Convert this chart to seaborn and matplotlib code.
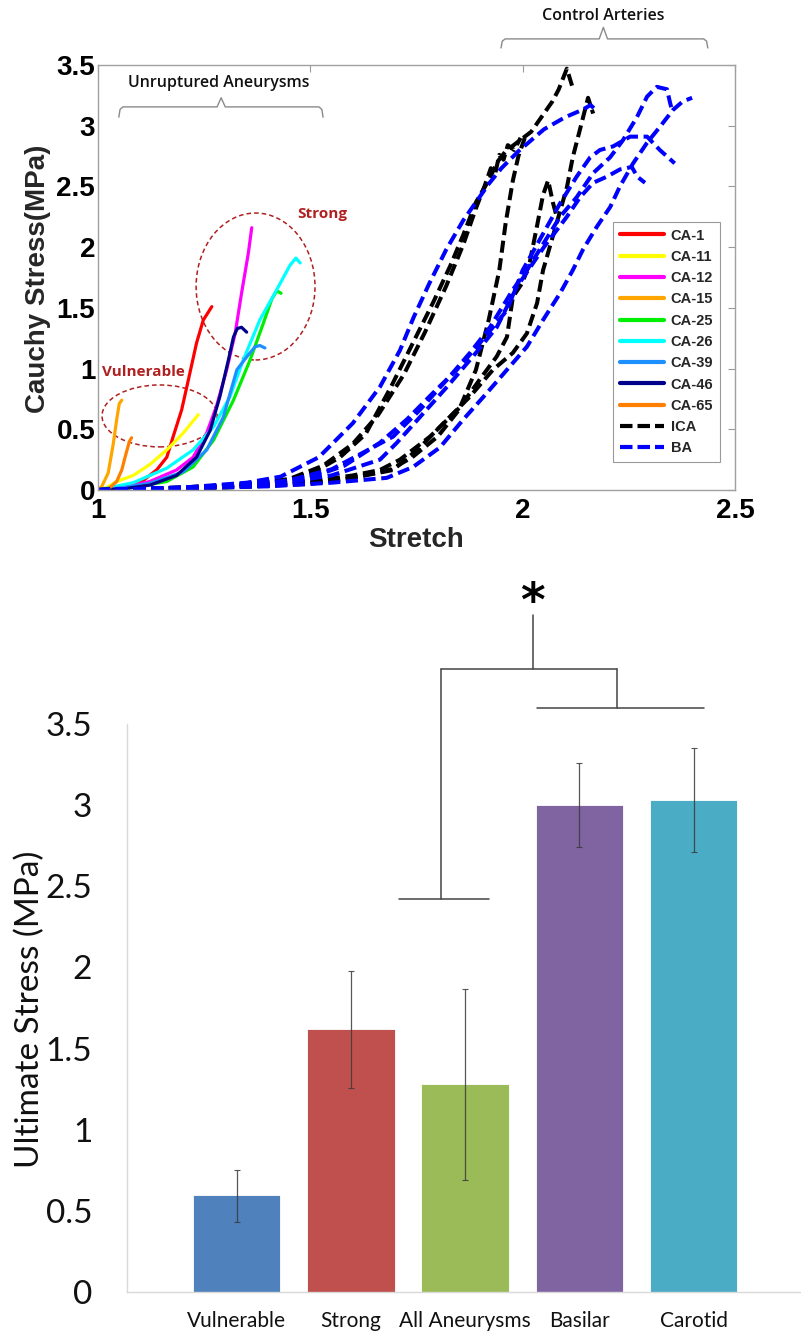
import numpy as np
import matplotlib
matplotlib.use("Agg")
import matplotlib.pyplot as plt
from matplotlib.lines import Line2D
from matplotlib.patches import Ellipse
import seaborn as sns

# ---------------- top panel data (stretch, Cauchy stress MPa) ----------------
ca1_stretch = [1.0, 1.03, 1.068, 1.107, 1.138, 1.162, 1.177, 1.197, 1.213, 1.232, 1.248, 1.268]
ca1_stress = [0.0, 0.01, 0.03, 0.08, 0.165, 0.27, 0.44, 0.66, 0.91, 1.21, 1.40, 1.51]
ca11_stretch = [1.0, 1.02, 1.044, 1.083, 1.122, 1.162, 1.201, 1.236]
ca11_stress = [0.0, 0.02, 0.07, 0.12, 0.21, 0.33, 0.47, 0.62]
ca12_stretch = [1.0, 1.06, 1.122, 1.185, 1.224, 1.256, 1.279, 1.303, 1.323, 1.338, 1.354, 1.362]
ca12_stress = [0.0, 0.02, 0.07, 0.165, 0.27, 0.47, 0.69, 0.99, 1.29, 1.62, 1.95, 2.16]
ca15_stretch = [1.0, 1.009, 1.024, 1.036, 1.044, 1.050, 1.056]
ca15_stress = [0.0, 0.03, 0.14, 0.38, 0.58, 0.71, 0.74]
ca25_stretch = [1.0, 1.08, 1.162, 1.224, 1.272, 1.319, 1.358, 1.389, 1.409, 1.421, 1.431]
ca25_stress = [0.0, 0.02, 0.07, 0.19, 0.41, 0.74, 1.07, 1.37, 1.57, 1.64, 1.62]
ca26_stretch = [1.0, 1.083, 1.162, 1.224, 1.272, 1.311, 1.342, 1.381, 1.421, 1.452, 1.466, 1.476]
ca26_stress = [0.0, 0.06, 0.18, 0.33, 0.52, 0.77, 1.07, 1.40, 1.65, 1.85, 1.91, 1.87]
ca39_stretch = [1.0, 1.06, 1.122, 1.201, 1.256, 1.295, 1.327, 1.351, 1.37, 1.381, 1.393]
ca39_stress = [0.0, 0.02, 0.055, 0.15, 0.33, 0.60, 0.99, 1.10, 1.18, 1.19, 1.17]
ca46_stretch = [1.0, 1.06, 1.122, 1.185, 1.232, 1.264, 1.287, 1.307, 1.319, 1.328, 1.338, 1.35]
ca46_stress = [0.0, 0.01, 0.04, 0.12, 0.27, 0.49, 0.77, 1.07, 1.26, 1.33, 1.34, 1.30]
ca65_stretch = [1.0, 1.02, 1.028, 1.044, 1.056, 1.066, 1.074, 1.079]
ca65_stress = [0.0, 0.005, 0.02, 0.07, 0.165, 0.30, 0.40, 0.43]

ica1_stretch = [1.0, 1.19, 1.31, 1.43, 1.51, 1.57, 1.63, 1.69, 1.74, 1.79, 1.83, 1.86, 1.89, 1.92,
                1.94, 1.96, 1.99, 2.02, 2.05, 2.07, 2.085, 2.104, 2.118]
ica1_stress = [0.0, 0.02, 0.04, 0.07, 0.15, 0.27, 0.46, 0.85, 1.2, 1.55, 1.85, 2.10, 2.37, 2.55,
               2.70, 2.79, 2.87, 2.95, 3.10, 3.20, 3.30, 3.47, 3.31]
ica2_stretch = [1.0, 1.2, 1.35, 1.45, 1.53, 1.6, 1.66, 1.72, 1.77, 1.82, 1.86, 1.89, 1.91, 1.925,
                1.935, 1.945, 1.955, 1.965, 1.98, 1.995]
ica2_stress = [0.0, 0.02, 0.05, 0.09, 0.2, 0.38, 0.62, 0.95, 1.3, 1.68, 2.02, 2.32, 2.5, 2.65,
               2.6, 2.76, 2.72, 2.84, 2.8, 2.9]
ica3_stretch = [1.0, 1.3, 1.5, 1.6, 1.69, 1.74, 1.8, 1.85, 1.89, 1.92, 1.945, 1.96, 1.977, 1.99, 2.005]
ica3_stress = [0.0, 0.02, 0.05, 0.1, 0.17, 0.27, 0.44, 0.66, 0.99, 1.40, 1.81, 2.2, 2.55, 2.75, 2.9]
ica4_stretch = [1.0, 1.25, 1.4, 1.5, 1.6, 1.664, 1.711, 1.782, 1.852, 1.899, 1.939, 1.963, 1.977,
                2.0, 2.017, 2.033, 2.048, 2.06, 2.071, 2.081]
ica4_stress = [0.0, 0.02, 0.04, 0.07, 0.12, 0.165, 0.25, 0.44, 0.68, 0.91, 1.10, 1.26, 1.59,
               1.71, 1.88, 2.16, 2.43, 2.55, 2.37, 2.24]
ica5_stretch = [1.0, 1.25, 1.4, 1.5, 1.6, 1.695, 1.758, 1.822, 1.876, 1.93, 1.977, 2.01, 2.034,
                2.048, 2.081, 2.104, 2.118, 2.135, 2.154, 2.166]
ica5_stress = [0.0, 0.02, 0.035, 0.06, 0.1, 0.165, 0.35, 0.58, 0.77, 0.99, 1.13, 1.29, 1.54,
               1.81, 2.21, 2.49, 2.74, 2.97, 3.23, 3.10]

ba1_stretch = [1.0, 1.2, 1.35, 1.43, 1.52, 1.6, 1.664, 1.711, 1.743, 1.78, 1.82, 1.86, 1.884, 1.92,
               1.95, 1.99, 2.05, 2.10, 2.14, 2.16, 2.175]
ba1_stress = [0.0, 0.02, 0.06, 0.11, 0.27, 0.55, 0.85, 1.15, 1.42, 1.7, 1.98, 2.22, 2.34, 2.52,
              2.65, 2.79, 2.97, 3.07, 3.13, 3.17, 3.12]
ba2_stretch = [1.0, 1.2, 1.35, 1.45, 1.55, 1.62, 1.695, 1.758, 1.822, 1.876, 1.923, 1.977, 2.01,
               2.088, 2.127, 2.166, 2.206, 2.236, 2.269, 2.293, 2.316, 2.34, 2.347, 2.35]
ba2_stress = [0.0, 0.02, 0.04, 0.08, 0.17, 0.3, 0.44, 0.66, 0.91, 1.13, 1.34, 1.65, 1.81,
              2.25, 2.41, 2.61, 2.74, 2.88, 3.07, 3.24, 3.32, 3.30, 3.19, 3.15]
ba3_stretch = [1.0, 1.2, 1.4, 1.55, 1.68, 1.742, 1.805, 1.86, 1.916, 1.963, 2.01, 2.048, 2.088,
               2.118, 2.142, 2.175, 2.206, 2.229, 2.26, 2.293, 2.323, 2.354, 2.377, 2.399]
ba3_stress = [0.0, 0.015, 0.03, 0.06, 0.10, 0.19, 0.35, 0.58, 0.80, 0.99, 1.18, 1.40, 1.62,
              1.81, 1.98, 2.17, 2.33, 2.50, 2.69, 2.86, 2.99, 3.13, 3.2, 3.23]
ba4_stretch = [1.0, 1.2, 1.35, 1.48, 1.58, 1.664, 1.727, 1.789, 1.845, 1.899, 1.963, 2.0, 2.088,
               2.127, 2.159, 2.182, 2.213, 2.253, 2.293, 2.323, 2.358]
ba4_stress = [0.0, 0.02, 0.04, 0.08, 0.2, 0.39, 0.58, 0.80, 0.99, 1.21, 1.48, 1.81, 2.36,
              2.58, 2.74, 2.80, 2.83, 2.91, 2.91, 2.80, 2.69]
ba5_stretch = [1.0, 1.2, 1.4, 1.55, 1.664, 1.704, 1.758, 1.822, 1.883, 1.939, 1.986, 2.05, 2.104,
               2.135, 2.166, 2.198, 2.229, 2.257, 2.27, 2.288]
ba5_stress = [0.0, 0.015, 0.04, 0.12, 0.25, 0.39, 0.60, 0.85, 1.10, 1.34, 1.67, 2.0, 2.25,
              2.41, 2.53, 2.58, 2.64, 2.66, 2.58, 2.53]

specimen_names = ["CA-1", "CA-11", "CA-12", "CA-15", "CA-25", "CA-26", "CA-39", "CA-46", "CA-65"]
specimen_colors = ["#ff0000", "#ffff00", "#ff00ff", "#ffa500", "#00ee00", "#00ffff",
                   "#1e8fff", "#00008b", "#ff7f00"]

# ---------------- bottom panel data ----------------
categories = ["Vulnerable", "Strong", "All Aneurysms", "Basilar", "Carotid"]
ultimate_stress = [0.60, 1.62, 1.28, 3.00, 3.03]
err_low = [0.43, 1.26, 0.69, 2.74, 2.71]
err_high = [0.75, 1.98, 1.87, 3.26, 3.35]
bar_colors = ["#4f81bd", "#c0504d", "#9bbb59", "#8064a2", "#4bacc6"]

# ---------------- figure ----------------
sns.set_theme(style="white")
plt.rcParams['font.family'] = ['Liberation Sans', 'DejaVu Sans']

W, H = 801, 1335
fig = plt.figure(figsize=(W / 100, H / 100), dpi=100)

# ===== top panel =====
ax1 = fig.add_axes([98 / W, (H - 490) / H, 637 / W, 425 / H])

ca_series = [
    (ca1_stretch, ca1_stress), (ca11_stretch, ca11_stress), (ca12_stretch, ca12_stress),
    (ca15_stretch, ca15_stress), (ca25_stretch, ca25_stress), (ca26_stretch, ca26_stress),
    (ca39_stretch, ca39_stress), (ca46_stretch, ca46_stress), (ca65_stretch, ca65_stress),
]
for (xs, ys), col in zip(ca_series, specimen_colors):
    sns.lineplot(x=xs, y=ys, sort=False, estimator=None, color=col, linewidth=2.3, ax=ax1)

dash_pattern = [3.0, 1.4]
ica_series = [(ica1_stretch, ica1_stress), (ica2_stretch, ica2_stress), (ica3_stretch, ica3_stress),
              (ica4_stretch, ica4_stress), (ica5_stretch, ica5_stress)]
for xs, ys in ica_series:
    sns.lineplot(x=xs, y=ys, sort=False, estimator=None, color="black", linewidth=2.9, ax=ax1)
    ax1.lines[-1].set_dashes(dash_pattern)

ba_series = [(ba1_stretch, ba1_stress), (ba2_stretch, ba2_stress), (ba3_stretch, ba3_stress),
             (ba4_stretch, ba4_stress), (ba5_stretch, ba5_stress)]
for xs, ys in ba_series:
    sns.lineplot(x=xs, y=ys, sort=False, estimator=None, color="#0000ff", linewidth=2.9, ax=ax1)
    ax1.lines[-1].set_dashes(dash_pattern)

ax1.set_xlim(1, 2.5)
ax1.set_ylim(0, 3.5)
ax1.set_xticks([1, 1.5, 2, 2.5])
ax1.set_xticklabels(["1", "1.5", "2", "2.5"])
ax1.set_yticks([0, 0.5, 1, 1.5, 2, 2.5, 3, 3.5])
ax1.set_yticklabels(["0", "0.5", "1", "1.5", "2", "2.5", "3", "3.5"])
ax1.tick_params(axis='both', direction='in', length=5, width=0.8, color='#9a9a9a',
                top=True, right=True, labelsize=20, labelcolor='black')
ax1.tick_params(axis='x', pad=6)
ax1.tick_params(axis='y', pad=2)
for lab in ax1.get_xticklabels() + ax1.get_yticklabels():
    lab.set_fontweight('bold')
for sp in ax1.spines.values():
    sp.set_color('#a0a0a0')
    sp.set_linewidth(1.0)
    sp.set_visible(True)
ax1.set_xlabel("Stretch", fontsize=20, fontweight='bold')
ax1.set_ylabel("Cauchy Stress(MPa)", fontsize=20, fontweight='bold')
ax1.xaxis.set_label_coords(0.5, -0.088)
ax1.yaxis.set_label_coords(-0.074, 0.496)

handles = [Line2D([0], [0], color=c, lw=3) for c in specimen_colors]
handles.append(Line2D([0], [0], color='black', lw=3, dashes=[3, 1.2]))
handles.append(Line2D([0], [0], color='#0000ff', lw=3, dashes=[3, 1.2]))
labels = specimen_names + ["ICA", "BA"]
leg = ax1.legend(handles, labels, loc='upper right', bbox_to_anchor=(0.9765, 0.6306),
                 prop={'family': 'Liberation Sans', 'weight': 'bold', 'size': 10.5},
                 handlelength=3.0, handletextpad=0.5, labelspacing=0.5, borderpad=0.45,
                 frameon=True, fancybox=False, framealpha=1, borderaxespad=0)
leg.get_frame().set_edgecolor('#9a9a9a')
leg.get_frame().set_linewidth(0.8)

# dashed ellipses and their labels
ell_color = '#b02020'
ax1.add_patch(Ellipse((1.145, 0.61), 0.271, 0.51, fill=False, edgecolor=ell_color,
                      linestyle=(0, (3, 2)), linewidth=1.1))
ax1.add_patch(Ellipse((1.371, 1.676), 0.28, 1.21, fill=False, edgecolor=ell_color,
                      linestyle=(0, (3, 2)), linewidth=1.1))
ax1.text(1.108, 0.97, "Vulnerable", color=ell_color, fontsize=11, fontweight='bold',
         family=['Open Sans', 'DejaVu Sans'], ha='center', va='center')
ax1.text(1.527, 2.27, "Strong", color=ell_color, fontsize=11, fontweight='bold',
         family=['Open Sans', 'DejaVu Sans'], ha='center', va='center')


def brace(ax, x0, x1, xc, y_end, y_bar, y_tip):
    d = (x1 - x0) * 0.02
    ax.plot([x0, x0 + d * 0.3, x0 + d, xc - d, xc, xc + d, x1 - d, x1 - d * 0.3, x1],
            [y_end, y_bar - (y_bar - y_end) * 0.25, y_bar, y_bar, y_tip, y_bar, y_bar,
             y_bar - (y_bar - y_end) * 0.25, y_end],
            color='#8a8a8a', lw=1.0, clip_on=False, solid_joinstyle='round')


brace(ax1, 1.049, 1.53, 1.29, 3.07, 3.155, 3.23)
ax1.text(1.285, 3.35, "Unruptured Aneurysms", fontsize=11.5, color='#111111', fontweight='semibold',
         family=['Open Sans', 'DejaVu Sans'], ha='center', va='center')
brace(ax1, 1.949, 2.436, 2.19, 3.64, 3.715, 3.81)
ax1.text(2.19, 3.90, "Control Arteries", fontsize=11.5, color='#111111', fontweight='semibold',
         family=['Open Sans', 'DejaVu Sans'], ha='center', va='center')

# ===== bottom panel =====
ax2 = fig.add_axes([127 / W, 43 / H, 674 / W, 568 / H])
sns.barplot(x=categories, y=ultimate_stress, hue=categories, palette=bar_colors, width=0.765,
            saturation=1, legend=False, ax=ax2, edgecolor='white', linewidth=0.6)
vals = np.array(ultimate_stress)
yerr = [vals - np.array(err_low), np.array(err_high) - vals]
ax2.errorbar(x=np.arange(len(categories)), y=vals, yerr=yerr, fmt='none', ecolor='#3a3a3a',
             elinewidth=0.9, capsize=2.5, capthick=0.8, alpha=0.85)
ax2.set_xlim(-0.96, 4.94)
ax2.set_ylim(0, 3.5)
ax2.set_yticks([0, 0.5, 1, 1.5, 2, 2.5, 3, 3.5])
ax2.set_yticklabels(["0", "0.5", "1", "1.5", "2", "2.5", "3", "3.5"])
ax2.set_xlabel("")
ax2.set_ylabel("Ultimate Stress (MPa)", fontsize=24, family=['Lato', 'DejaVu Sans'], color='#111111')
ax2.yaxis.set_label_coords(-0.122, 0.498)
ax2.tick_params(axis='y', length=0, pad=25, labelsize=24, labelcolor='#111111')
ax2.tick_params(axis='x', length=0, pad=14, labelsize=15, labelcolor='#111111')
for lab in ax2.get_xticklabels() + ax2.get_yticklabels():
    lab.set_family(['Lato', 'DejaVu Sans'])
ax2.spines['top'].set_visible(False)
ax2.spines['right'].set_visible(False)
ax2.spines['left'].set_color('#d9d9d9')
ax2.spines['bottom'].set_color('#d9d9d9')
ax2.spines['left'].set_linewidth(1.0)
ax2.spines['bottom'].set_linewidth(1.0)
ax2.grid(False)

# significance bracket
sig = dict(color='#444444', lw=1.1, clip_on=False)
ax2.plot([2.59, 2.59], [3.84, 4.17], **sig)
ax2.plot([1.79, 3.33], [3.84, 3.84], **sig)
ax2.plot([3.33, 3.33], [3.60, 3.84], **sig)
ax2.plot([2.63, 4.09], [3.60, 3.60], **sig)
ax2.plot([1.79, 1.79], [2.42, 3.84], **sig)
ax2.plot([1.42, 2.21], [2.42, 2.42], **sig)
ax2.text(2.59, 4.24, "*", fontsize=34, fontweight='bold', ha='center', va='center',
         family=['DejaVu Sans'], color='black', clip_on=False)

fig.savefig("out.png", dpi=100)
